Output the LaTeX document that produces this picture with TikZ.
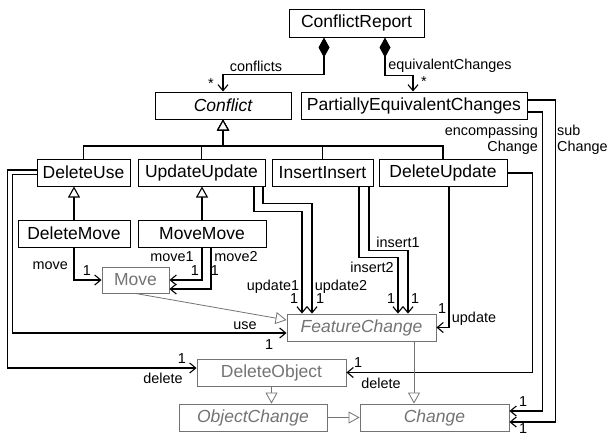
\documentclass[tikz,border=0pt]{standalone}
\usepackage{fontspec}
\setmainfont{Liberation Sans}
\usetikzlibrary{arrows.meta,calc}
\definecolor{gr}{gray}{0.45}
\begin{document}
\begin{tikzpicture}[x=1pt,y=-1pt,
  box/.style={draw,line width=1pt,inner sep=0pt,minimum height=27pt,font=\fontsize{17.5}{20}\selectfont},
  gbox/.style={box,draw=gr,text=gr,line width=0.9pt},
  lab/.style={font=\fontsize{14.4}{16}\selectfont,inner sep=0pt},
  conn/.style={line width=1.1pt,-{Straight Barb[length=6pt,width=10pt,line width=1.1pt]}},
  gen/.style={line width=1.1pt,-{Triangle[open,length=11pt,width=12pt,fill=white,line width=1.1pt]}},
  ggen/.style={draw=gr,line width=0.8pt,-{Triangle[open,length=11pt,width=12pt,fill=white,line width=0.8pt]}},
  comp/.style={line width=1.1pt,{Diamond[length=20pt,width=11pt]}-{Straight Barb[length=6pt,width=10pt,line width=1.1pt]}}]
\useasboundingbox (0,0) rectangle (607,437);

% classes
\node[box,minimum width=135pt,minimum height=28pt] (CR) at (356.5,23) {ConflictReport};
\node[box,minimum width=136pt] (Conflict) at (223,105.5) {\itshape Conflict};
\node[box,minimum width=226pt] (PEC) at (414,105.5) {PartiallyEquivalentChanges};
\node[box,minimum width=93pt] (DU) at (83.5,172.5) {DeleteUse};
\node[box,minimum width=127pt] (UU) at (201.5,172.5) {UpdateUpdate};
\node[box,minimum width=101pt] (II) at (322.5,172.5) {InsertInsert};
\node[box,minimum width=128pt] (DUp) at (443,172.5) {DeleteUpdate};
\node[box,minimum width=112pt] (DM) at (74,233.5) {DeleteMove};
\node[box,minimum width=128pt] (MM) at (202,233.5) {MoveMove};
\node[gbox,minimum width=67pt,minimum height=26pt] (Move) at (135.5,280) {Move};
\node[gbox,minimum width=149pt] (FC) at (361.5,327.5) {\itshape FeatureChange};
\node[gbox,minimum width=149pt] (DO) at (271.5,372.5) {DeleteObject};
\node[gbox,minimum width=148pt] (OC) at (253,417.5) {\itshape ObjectChange};
\node[gbox,minimum width=149pt] (Ch) at (434.5,417.5) {\itshape Change};

% compositions
\draw[comp] ($(CR.south)+(-32.5,0)$) -- ++(0,37) -| (Conflict.north);
\draw[comp] ($(CR.south)+(28.5,0)$) -- ++(0,38) -| ($(PEC.north)+(-1,0)$);
\node[lab] (lconf) at (256,66) {conflicts};
\node[lab] (sconf) at (211,84) {*};
\node[lab] (leq) at (450,66) {equivalentChanges};
\node[lab] (seq) at (424,82) {*};

% generalization to Conflict
\coordinate (bar) at (223,146);
\draw[gen] (DU.north) |- (bar) -- (Conflict.south);
\draw[gen] (UU.north) |- (bar) -- (Conflict.south);
\draw[gen] (II.north) |- (bar) -- (Conflict.south);
\draw[gen] (DUp.north) |- (bar) -- (Conflict.south);
\draw[line width=2pt] (bar) -- ($(Conflict.south)+(0,12)$);

\draw[gen] (DM.north) -- (DM.north |- DU.south);
\draw[gen] (MM.north) -- (MM.north |- UU.south);

% move
\draw[conn] (DM.south) |- (Move.west);
\node[lab,anchor=east] (lmove) at (68,266) {move};
\node[lab] (m1a) at (87,271) {1};
\draw[conn] (MM.south) |- (Move.east);
\draw[conn] ($(MM.south)+(9,0)$) |- ($(Move.east)+(0,9)$);
\node[lab] (lm1) at (172,257) {move1};
\node[lab] (lm2) at (236,257) {move2};
\node[lab] (m1b) at (195,271) {1};
\node[lab] (m1c) at (215,271) {1};

% update update
\draw[conn] ($(UU.south)+(52.5,0)$) -- ++(0,25) -| ($(FC.north)+(-59.5,0)$);
\draw[conn] ($(UU.south)+(61.5,0)$) -- ++(0,17) -| ($(FC.north)+(-49.5,0)$);
\node[lab] (lu1) at (273,287) {update1};
\node[lab] (lu2) at (341,287) {update2};
\node[lab] (u1a) at (294,299) {1};
\node[lab] (u1b) at (320,299) {1};

% insert insert
\draw[conn] ($(II.south)+(46.5,0)$) -- ++(0,64) -| ($(FC.north)+(46.5,0)$);
\draw[conn] ($(II.south)+(36.5,0)$) -- ++(0,71) -| ($(FC.north)+(36.5,0)$);
\node[lab] (li1) at (398,242) {insert1};
\node[lab] (li2) at (372,267) {insert2};
\node[lab] (i1a) at (391,299) {1};
\node[lab] (i1b) at (415,299) {1};

% delete update
\draw[conn] ($(DUp.south)+(6,0)$) |- (FC.east);
\node[lab] (dua) at (442,309) {1};
\node[lab] (lup) at (474,319) {update};
\draw[conn] ($(DUp.east)+(0,0.5)$) -- ++(25,0) |- (DO.east);
\node[lab] (dob) at (358,363) {1};
\node[lab] (ldel2) at (381,383) {delete};

% partially equivalent changes
\draw[conn] ($(PEC.east)+(0,6.5)$) -- ++(15,0) |- ($(Ch.east)+(0,-6.5)$);
\draw[conn] ($(PEC.east)+(0,-5.5)$) -- ++(28,0) |- ($(Ch.east)+(0,4.5)$);
\node[lab,anchor=east,align=right] (lenc) at (538,140) {encompassing\\Change};
\node[lab,anchor=west,align=left] (lsub) at (557,140) {sub\\Change};
\node[lab] (ca) at (523,402) {1};
\node[lab] (cb) at (523,429) {1};

% delete use
\draw[conn] ($(DU.west)+(0,2)$) -- ++(-24,0) |- ($(FC.west)+(0,5.5)$);
\node[lab] (luse) at (245,326) {use};
\node[lab] (fca) at (269,345) {1};
\draw[conn] ($(DU.west)+(0,-2.5)$) -- ++(-29,0) |- ($(DO.west)+(0,-4.5)$);
\node[lab] (ldel) at (163,378) {delete};
\node[lab] (doa) at (182,359) {1};

% gray generalizations
\coordinate (fcs) at ($(FC.south)+(52.5,0)$);
\coordinate (fcw) at ($(FC.west)+(0,-7.5)$);
\draw[ggen] (Move.south) -- (fcw);
\draw[ggen] (fcs) -- (fcs |- Ch.north);
\draw[ggen] (DO.south) -- (DO.south |- OC.north);
\draw[ggen] (OC.east) -- (Ch.west);
\end{tikzpicture}
\end{document}
